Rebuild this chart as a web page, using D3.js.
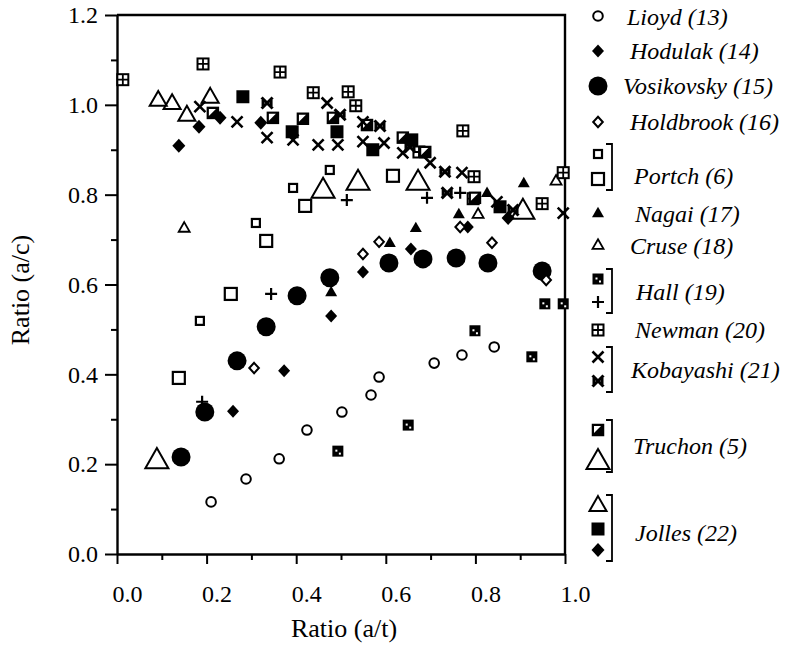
<!DOCTYPE html>
<html>
<head>
<meta charset="utf-8">
<script src="https://cdn.jsdelivr.net/npm/d3@7"></script>
<style>
  body { margin: 0; background: #fff; }
  svg { display: block; }
</style>
</head>
<body>
<svg id="chart" width="785" height="646"></svg>
<script>
// data: [ratio a/t, ratio a/c]
const lioyd = [[0.21,0.116],[0.288,0.167],[0.362,0.212],[0.424,0.276],[0.502,0.316],[0.567,0.354],[0.585,0.394],[0.708,0.425],[0.770,0.443],[0.842,0.461]];
const hodulak = [[0.259,0.318],[0.373,0.408],[0.478,0.530],[0.549,0.628],[0.656,0.679],[0.783,0.728]];
const vosikovsky = [[0.143,0.216],[0.196,0.316],[0.268,0.430],[0.333,0.506],[0.402,0.575],[0.475,0.615],[0.607,0.648],[0.683,0.657],[0.757,0.659],[0.828,0.648],[0.949,0.630]];
const holdbrook = [[0.306,0.414],[0.549,0.668],[0.585,0.695],[0.766,0.728],[0.837,0.693],[0.958,0.610]];
const portchSmall = [[0.185,0.519],[0.310,0.737],[0.393,0.815],[0.475,0.855]];
const portchLarge = [[0.138,0.392],[0.254,0.579],[0.333,0.697],[0.420,0.775],[0.616,0.842]];
const nagai = [[0.478,0.583],[0.609,0.693],[0.667,0.726],[0.763,0.757],[0.826,0.804],[0.908,0.826]];
const cruse = [[0.150,0.726],[0.806,0.757],[0.980,0.831]];
const hallSquare = [[0.493,0.229],[0.650,0.287],[0.799,0.497],[0.926,0.439],[0.955,0.557],[0.996,0.557]];
const hallPlus = [[0.190,0.339],[0.344,0.579],[0.513,0.788],[0.692,0.793],[0.766,0.804]];
const newman = [[0.013,1.056],[0.192,1.091],[0.364,1.073],[0.438,1.027],[0.516,1.029],[0.533,0.998],[0.674,0.895],[0.772,0.942],[0.797,0.840],[0.795,0.791],[0.949,0.780],[0.996,0.849]];
const kobayashiThin = [[0.185,0.996],[0.268,0.962],[0.335,0.927],[0.393,0.922],[0.469,1.004],[0.449,0.911],[0.493,0.911],[0.549,0.962],[0.549,0.918],[0.596,0.915],[0.638,0.893],[0.699,0.871],[0.770,0.849],[0.848,0.784],[0.996,0.759]];
const kobayashiBold = [[0.335,1.004],[0.498,0.978],[0.587,0.953],[0.654,0.906],[0.732,0.851],[0.737,0.804],[0.884,0.766]];
const truchonSquare = [[0.214,0.982],[0.348,0.971],[0.415,0.969],[0.482,0.971],[0.558,0.955],[0.638,0.927],[0.688,0.895],[0.799,0.793]];
const truchonTri = [[0.089,0.209],[0.460,0.811],[0.538,0.829],[0.672,0.829],[0.906,0.764]];
const jollesTri = [[0.092,1.011],[0.123,1.004],[0.156,0.978],[0.208,1.018]];
const jollesSquare = [[0.281,1.018],[0.391,0.940],[0.491,0.940],[0.571,0.900],[0.658,0.922],[0.855,0.773]];
const jollesDiamond = [[0.138,0.909],[0.183,0.951],[0.230,0.971],[0.321,0.960],[0.873,0.748]];

const xMajor = [0, 0.2, 0.4, 0.6, 0.8, 1.0];
const xMinor = [0.1, 0.3, 0.5, 0.7, 0.9];
const yMajor = [0, 0.2, 0.4, 0.6, 0.8, 1.0, 1.2];
const yMinor = [0.1, 0.3, 0.5, 0.7, 0.9, 1.1];

const legendNames = ["Lioyd (13)","Hodulak (14)","Vosikovsky (15)","Holdbrook (16)","Portch (6)","Nagai (17)","Cruse (18)","Hall (19)","Newman (20)","Kobayashi (21)","Truchon (5)","Jolles (22)"];
const legendSymbols = [["circleOpen"],["diamondFilled"],["circleBig"],["diamondOpen"],["squareSmall","squareLarge"],["triFilled"],["triOpen"],["hallSquare","plus"],["boxCross"],["cross","crossBold"],["truchonSquare","triBig"],["triMed","squareFilled","diamondJolles"]];

const FONT = "Liberation Serif";

const svg = d3.select("#chart");
const x = d3.scaleLinear().domain([0, 1]).range([117, 565]);
const y = d3.scaleLinear().domain([0, 1.2]).range([554, 15]);

// frame (top + right)
svg.append("path")
  .attr("d", `M${x(0)},${y(1.2)}H${x(1)}V${y(0)}`)
  .attr("fill", "none").attr("stroke", "#000").attr("stroke-width", 2.4);

// axes, major + minor ticks pointing out
const xAxisG = svg.append("g").attr("transform", `translate(0,${y(0)})`)
  .call(d3.axisBottom(x).tickValues(xMajor).tickSize(10).tickSizeOuter(0).tickFormat(d3.format(".1f")));
svg.append("g").attr("transform", `translate(0,${y(0)})`)
  .call(d3.axisBottom(x).tickValues(xMinor).tickSize(6).tickFormat(""))
  .call(g => g.select(".domain").remove());

const yAxisG = svg.append("g").attr("transform", `translate(${x(0)},0)`)
  .call(d3.axisLeft(y).tickValues(yMajor).tickSize(12).tickSizeOuter(0).tickFormat(d3.format(".1f")));
svg.append("g").attr("transform", `translate(${x(0)},0)`)
  .call(d3.axisLeft(y).tickValues(yMinor).tickSize(6).tickFormat(""))
  .call(g => g.select(".domain").remove());

svg.selectAll(".domain").attr("stroke-width", 2.4);
svg.selectAll(".tick line").attr("stroke-width", 2);
svg.selectAll(".tick text").style("font-size", "24px");
xAxisG.selectAll(".tick text").attr("y", 31).attr("dx", 10);
yAxisG.selectAll(".tick text").attr("x", -19);

// axis titles
svg.append("text")
  .attr("x", 344).attr("y", 637)
  .attr("text-anchor", "middle")
  .style("font-size", "26px")
  .text("Ratio (a/t)");
svg.append("text")
  .attr("transform", "translate(29,290) rotate(-90)")
  .attr("text-anchor", "middle")
  .style("font-size", "26px")
  .text("Ratio (a/c)");

function triPath(s) {
  const h = s * 0.87;
  return `M0,${-h * 0.6}L${s / 2},${h * 0.4}L${-s / 2},${h * 0.4}Z`;
}
function diamondPath(w, h) {
  return `M0,${-h}L${w},0L0,${h}L${-w},0Z`;
}

function drawSymbol(g, type) {
  const k = "#000";
  switch (type) {
    case "circleOpen":
      g.append("circle").attr("r", 4.8).attr("fill", "#fff").attr("stroke", k).attr("stroke-width", 2); break;
    case "circleBig":
      g.append("circle").attr("r", 9.5).attr("fill", k); break;
    case "diamondFilled":
      g.append("path").attr("d", diamondPath(6, 6.5)).attr("fill", k); break;
    case "diamondJolles":
      g.append("path").attr("d", diamondPath(6.5, 7)).attr("fill", k); break;
    case "diamondOpen":
      g.append("path").attr("d", diamondPath(4.8, 5.2)).attr("fill", "#fff").attr("stroke", k).attr("stroke-width", 2); break;
    case "squareSmall":
      g.append("rect").attr("x", -4).attr("y", -4).attr("width", 8).attr("height", 8).attr("fill", "#fff").attr("stroke", k).attr("stroke-width", 2.2); break;
    case "squareLarge":
      g.append("rect").attr("x", -6).attr("y", -6).attr("width", 12).attr("height", 12).attr("fill", "#fff").attr("stroke", k).attr("stroke-width", 2.2); break;
    case "squareFilled":
      g.append("rect").attr("x", -6.5).attr("y", -6.5).attr("width", 13).attr("height", 13).attr("fill", k); break;
    case "triFilled":
      g.append("path").attr("d", triPath(12)).attr("fill", k); break;
    case "triOpen":
      g.append("path").attr("d", triPath(11)).attr("fill", "#fff").attr("stroke", k).attr("stroke-width", 1.8); break;
    case "triMed":
      g.append("path").attr("d", triPath(17)).attr("fill", "none").attr("stroke", k).attr("stroke-width", 2); break;
    case "triBig":
      g.append("path").attr("d", triPath(23)).attr("fill", "none").attr("stroke", k).attr("stroke-width", 2); break;
    case "hallSquare":
      g.append("rect").attr("x", -5.5).attr("y", -5.5).attr("width", 11).attr("height", 11).attr("fill", k);
      g.append("rect").attr("x", -2.5).attr("y", -1.5).attr("width", 2).attr("height", 2).attr("fill", "#fff");
      g.append("rect").attr("x", 1).attr("y", 1.5).attr("width", 2).attr("height", 2).attr("fill", "#fff");
      break;
    case "plus":
      g.append("path").attr("d", "M-6,0H6M0,-6V6").attr("stroke", k).attr("stroke-width", 2.2); break;
    case "boxCross":
      g.append("rect").attr("x", -5.5).attr("y", -5.5).attr("width", 11).attr("height", 11).attr("fill", "#fff").attr("stroke", k).attr("stroke-width", 2);
      g.append("path").attr("d", "M-5.5,0H5.5M0,-5.5V5.5").attr("stroke", k).attr("stroke-width", 1.8);
      break;
    case "cross":
      g.append("path").attr("d", "M-5.5,-5.5L5.5,5.5M5.5,-5.5L-5.5,5.5").attr("stroke", k).attr("stroke-width", 2.6); break;
    case "crossBold":
      g.append("path").attr("d", "M-5.5,-5.5L5.5,5.5M5.5,-5.5L-5.5,5.5").attr("stroke", k).attr("stroke-width", 3);
      g.append("path").attr("d", "M-4,-3L-4,3M4,-3L4,3").attr("stroke", k).attr("stroke-width", 3);
      break;
    case "truchonSquare":
      g.append("rect").attr("x", -5.5).attr("y", -5.5).attr("width", 11).attr("height", 11).attr("fill", k).attr("stroke", k).attr("stroke-width", 1.5);
      g.append("path").attr("d", "M-4,-4L3,-4L-4,3Z").attr("fill", "#fff");
      break;
  }
}

const series = [
  [lioyd, "circleOpen"], [portchLarge, "squareLarge"], [portchSmall, "squareSmall"],
  [truchonTri, "triBig"], [jollesTri, "triMed"], [cruse, "triOpen"],
  [newman, "boxCross"], [hallPlus, "plus"], [hallSquare, "hallSquare"],
  [truchonSquare, "truchonSquare"], [kobayashiThin, "cross"], [kobayashiBold, "crossBold"],
  [jollesSquare, "squareFilled"], [jollesDiamond, "diamondJolles"], [hodulak, "diamondFilled"],
  [nagai, "triFilled"], [vosikovsky, "circleBig"], [holdbrook, "diamondOpen"]
];

const plotG = svg.append("g");
series.forEach(([data, type]) => {
  plotG.selectAll(null).data(data).enter().append("g")
    .attr("transform", d => `translate(${x(d[0])},${y(d[1])})`)
    .each(function() { drawSymbol(d3.select(this), type); });
});

// legend
const legendTextY = [17, 51, 86, 122, 176, 214, 246, 292, 330, 370, 446, 533];
const legendSymY = [[16],[51],[86],[122],[154,179],[213],[245],[279,302],[330],[357,381],[430,461],[505,529,550]];
const legendTextX = [627, 630, 623, 630, 634, 635, 630, 636, 635, 631, 633, 635];
const symX = 598, bracketX = 612;

const legendG = svg.append("g");
legendNames.forEach((name, i) => {
  const ys = legendSymY[i];
  legendSymbols[i].forEach((type, j) => {
    drawSymbol(legendG.append("g").attr("transform", `translate(${symX},${ys[j]})`), type);
  });
  if (ys.length > 1) {
    const top = ys[0] - 10, bot = ys[ys.length - 1] + 11;
    legendG.append("path")
      .attr("d", `M${bracketX - 6},${top}H${bracketX}V${bot}H${bracketX - 6}`)
      .attr("fill", "none").attr("stroke", "#000").attr("stroke-width", 1.8);
  }
  legendG.append("text")
    .attr("x", legendTextX[i]).attr("y", legendTextY[i])
    .attr("dy", "0.35em")
    .style("font-size", "24px").style("font-style", "italic")
    .text(name);
});

// every text in the serif face
svg.selectAll("text").style("font-family", FONT).style("fill", "#000");
</script>
</body>
</html>
